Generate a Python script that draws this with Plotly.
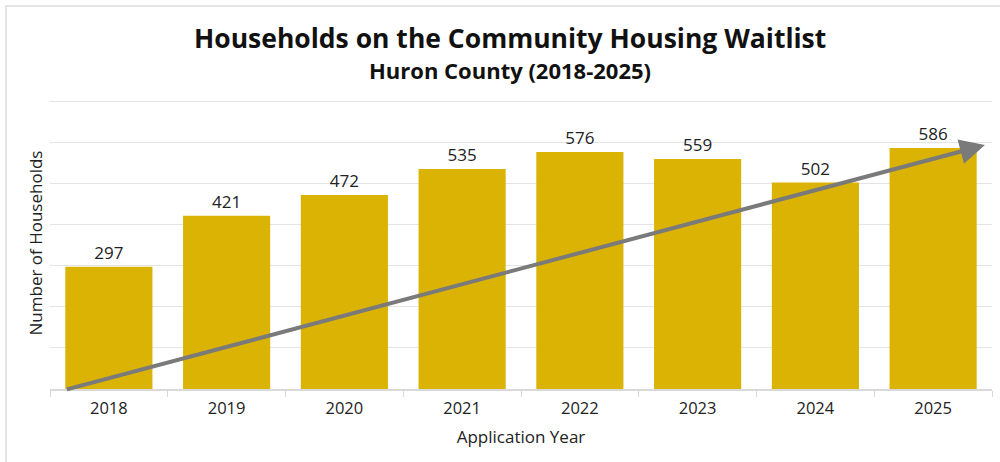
import plotly.graph_objects as go

years = ["2018", "2019", "2020", "2021", "2022", "2023", "2024", "2025"]
households = [297, 421, 472, 535, 576, 559, 502, 586]

# trend arrow endpoints (category index, value)
trend_x = [-0.37, 7.44]
trend_y = [-2, 593]

title = "Households on the Community Housing Waitlist"
subtitle = "Huron County (2018-2025)"

FONT = "Open Sans"

fig = go.Figure()
fig.add_trace(go.Bar(
    x=years, y=households,
    marker=dict(color="#DAB305", line=dict(width=0)),
    text=[str(v) for v in households],
    textposition="outside",
    textfont=dict(family=FONT, size=17, color="#222222"),
    cliponaxis=False,
    width=0.74,
    hoverinfo="skip",
))

fig.update_layout(
    width=1000, height=462,
    margin=dict(l=50, r=8, t=97, b=73),
    paper_bgcolor="white", plot_bgcolor="white",
    showlegend=False,
    font=dict(family=FONT, color="#222222"),
    xaxis=dict(
        type="category",
        showgrid=False,
        showline=True, linecolor="#d9d9d9", linewidth=1.5,
        ticks="outside", tickson="boundaries", ticklen=6, tickcolor="#d9d9d9",
        ticklabelstandoff=3,
        tickfont=dict(family=FONT, size=16.5, color="#222222"),
        title=dict(text="Application Year", font=dict(family=FONT, size=17, color="#222222"), standoff=14),
        range=[-0.5, 7.5],
    ),
    yaxis=dict(
        range=[0, 710], tickmode="linear", tick0=0, dtick=100,
        showgrid=True, gridcolor="#e4e4e4", gridwidth=1.2,
        showticklabels=False, zeroline=False, ticks="",
        title=dict(text="Number of Households", font=dict(family=FONT, size=17, color="#222222"), standoff=2),
    ),
    annotations=[
        dict(text="<b>" + title + "</b>", xref="paper", yref="paper", x=0.4883, y=1.202,
             xanchor="center", yanchor="middle", showarrow=False,
             font=dict(family=FONT, size=26.5, color="#111111")),
        dict(text="<b>" + subtitle + "</b>", xref="paper", yref="paper", x=0.4883, y=1.0925,
             xanchor="center", yanchor="middle", showarrow=False,
             font=dict(family=FONT, size=22, color="#111111")),
        dict(x=trend_x[1], y=trend_y[1], ax=trend_x[0], ay=trend_y[0],
             xref="x", yref="y", axref="x", ayref="y",
             showarrow=True, arrowhead=2, arrowsize=1.25, arrowwidth=4,
             arrowcolor="#7a7a7a", text=""),
    ],
    shapes=[
        dict(type="path", xref="paper", yref="paper",
             path="M -0.0467 -0.3 L -0.0467 1.3116 L 1.02 1.3116",
             line=dict(color="#dddddd", width=1.5)),
    ],
)

fig.write_html("out.html")
